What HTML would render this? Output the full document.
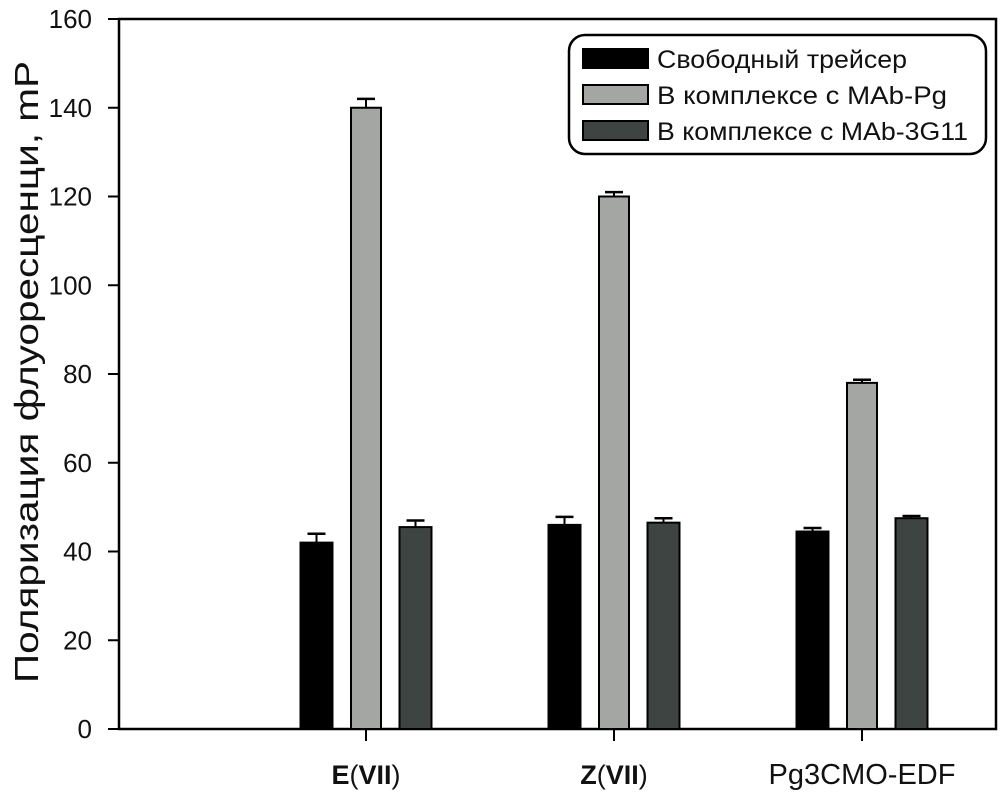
<!DOCTYPE html>
<html><head><meta charset="utf-8"><style>
body{margin:0;background:#fff;}
svg text{font-family:"Liberation Sans",sans-serif;}
</style></head><body>
<svg id="c" width="1004" height="797" xmlns="http://www.w3.org/2000/svg"></svg>
<script>
const categories=["E(VII)","Z(VII)","Pg3CMO-EDF"];
const seriesNames=["Свободный трейсер","В комплексе с MAb-Pg","В комплексе с MAb-3G11"];
const freeVals=[42,46,44.5];
const pgVals=[140,120,78];
const g11Vals=[45.5,46.5,47.5];
const freeErr=[2,1.8,0.8];
const pgErr=[2,1,0.7];
const g11Err=[1.5,1,0.5];
const yTicks=[0,20,40,60,80,100,120,140,160];
const svg=document.getElementById('c');
const NS="http://www.w3.org/2000/svg";
function mk(t,a,p){const e=document.createElementNS(NS,t);for(const k in a)e.setAttribute(k,a[k]);(p||svg).appendChild(e);return e;}
const x0=119,x1=996,yB=729,yT=19;
const y=v=>yB-(v/160)*(yB-yT);
const xc=i=>366+i*248;
const colors=["#000","#a3a6a3","#3e4441"];
const offs=[-49.5,0,49.5];
const vals=[freeVals,pgVals,g11Vals],errs=[freeErr,pgErr,g11Err];
let e;
e=mk('rect',{x:x0,y:yT,width:x1-x0,height:yB-yT,fill:'none',stroke:'#000','stroke-width':2.5});

yTicks.forEach(t=>{
 e=mk('line',{x1:108,x2:x0,y1:y(t),y2:y(t),stroke:'#000','stroke-width':2});
 
 e=mk('text',{x:92,y:y(t)+9,'text-anchor':'end','font-size':26,fill:'#111'});e.textContent=t;
 
});
categories.forEach((c,i)=>{
 e=mk('line',{x1:xc(i),x2:xc(i),y1:yB,y2:741,stroke:'#000','stroke-width':2});
 
 e=mk('text',{x:xc(i),y:784,'text-anchor':'middle','font-size':i<2?27:29,fill:'#111'});
 
 if(i<2){const m=c.match(/^(\w)\((\w+)\)$/);
  e.innerHTML='<tspan font-weight="bold">'+m[1]+'</tspan>(<tspan font-weight="bold">'+m[2]+'</tspan>)';}
 else e.textContent=c;
 for(let s=0;s<3;s++){
  const v=vals[s][i],er=errs[s][i],cx=xc(i)+offs[s],w=s==1?30:32;
  const ey=y(v+er);
  e=mk('line',{x1:cx,x2:cx,y1:y(v),y2:ey,stroke:'#000','stroke-width':2});
  
  e=mk('line',{x1:cx-9,x2:cx+9,y1:ey,y2:ey,stroke:'#000','stroke-width':2.5});
  
  e=mk('rect',{x:cx-w/2,y:y(v),width:w,height:yB-y(v),fill:colors[s],stroke:'#000','stroke-width':2});
  
 }
});
e=mk('text',{transform:'translate(38,372) rotate(-90)','text-anchor':'middle','font-size':33,fill:'#111',textLength:622,lengthAdjust:'spacingAndGlyphs'});
e.textContent='Поляризация флуоресценци, mP';

const lg=mk('g',{});

e=mk('rect',{x:569,y:35,width:417,height:119,rx:16,fill:'#fff',stroke:'#000','stroke-width':2.5},lg);
const lens=[250,290,311];
seriesNames.forEach((n,s)=>{
 const ry=49+s*36;
 e=mk('rect',{x:583,y:ry,width:65,height:19,fill:colors[s],stroke:'#000','stroke-width':2},lg);
 
 e=mk('text',{x:657,y:ry+19,'font-size':25,fill:'#111',textLength:lens[s],lengthAdjust:'spacingAndGlyphs'},lg);e.textContent=n;
 
});
</script>
</body></html>
